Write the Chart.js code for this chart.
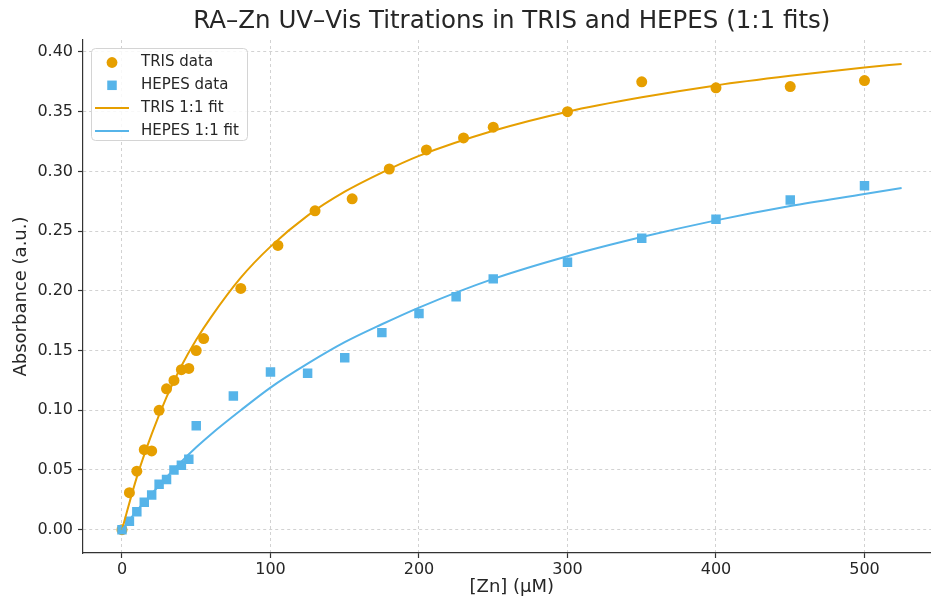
<!DOCTYPE html>
<html><head><meta charset="utf-8">
<script src="https://cdn.jsdelivr.net/npm/chart.js"></script>
<style>html,body{margin:0;padding:0;overflow:hidden;background:#fff;width:931px;height:600px}
#wrap{width:960px;height:600px}</style>
</head><body><div id="wrap"><canvas id="c" width="960" height="600"></canvas></div>
<script>
const titleText = 'RA–Zn UV–Vis Titrations in TRIS and HEPES (1:1 fits)';
const xTitle = '[Zn] (µM)';
const yTitle = 'Absorbance (a.u.)';
const xTicks = [0, 100, 200, 300, 400, 500];
const yTicks = [0, 0.05, 0.10, 0.15, 0.20, 0.25, 0.30, 0.35, 0.40];

const trisX = [0,5,10,15,20,25,30,35,40,45,50,55,80,105,130,155,180,205,230,250,300,350,400,450,500];
const trisY = [0,0.031,0.049,0.067,0.066,0.100,0.118,0.125,0.134,0.135,0.150,0.160,0.202,0.238,0.267,0.277,0.302,0.318,0.328,0.337,0.350,0.375,0.370,0.371,0.376];
const hepesX = [0,5,10,15,20,25,30,35,40,45,50,75,100,125,150,175,200,225,250,300,350,400,450,500];
const hepesY = [0,0.007,0.015,0.023,0.029,0.038,0.042,0.050,0.054,0.059,0.087,0.112,0.132,0.131,0.144,0.165,0.181,0.195,0.210,0.224,0.244,0.260,0.276,0.288];
const fitX = [0,10,20,30,40,50,60,80,100,125,150,175,200,250,300,350,400,450,500,525];
const trisFit = [0,0.044,0.080,0.111,0.137,0.159,0.178,0.211,0.237,0.263,0.283,0.299,0.313,0.334,0.350,0.362,0.372,0.380,0.387,0.390];
const hepesFit = [0,0.016,0.030,0.044,0.057,0.069,0.080,0.100,0.119,0.139,0.157,0.172,0.186,0.210,0.229,0.245,0.259,0.271,0.281,0.286];

const ORANGE = '#E69F00', BLUE = '#56B4E9';
const FONT = "'DejaVu Sans', sans-serif";
const pts = (xs, ys) => xs.map((x, i) => ({x, y: ys[i]}));

const legendPlugin = {
  id: 'boxLegend',
  afterDraw(chart) {
    const ctx = chart.ctx;
    ctx.save();
    ctx.beginPath();
    ctx.roundRect(91.5, 48.5, 156, 92, 4);
    ctx.fillStyle = 'rgba(255,255,255,0.85)';
    ctx.fill();
    ctx.strokeStyle = '#d4d4d4';
    ctx.lineWidth = 1;
    ctx.stroke();
    const ds = chart.data.datasets;
    const order = [0, 1, 2, 3];
    ctx.font = '15px ' + FONT;
    ctx.textBaseline = 'middle';
    ctx.textAlign = 'left';
    order.forEach((di, i) => {
      const d = ds[di];
      const y = 62.5 + i * 22.8;
      if (d.showLine) {
        ctx.beginPath();
        ctx.moveTo(95, y); ctx.lineTo(129, y);
        ctx.strokeStyle = d.borderColor; ctx.lineWidth = 2; ctx.stroke();
      } else if (d.pointStyle === 'rect') {
        ctx.fillStyle = d.backgroundColor;
        ctx.fillRect(112 - 4.75, y - 4.75, 9.5, 9.5);
      } else {
        ctx.beginPath(); ctx.arc(112, y, 5.4, 0, Math.PI * 2);
        ctx.fillStyle = d.backgroundColor; ctx.fill();
      }
      ctx.fillStyle = '#262626';
      ctx.fillText(d.label, 141, y);
    });
    ctx.restore();
  }
};

new Chart(document.getElementById('c'), {
  type: 'scatter',
  data: {
    datasets: [
      {label: 'TRIS data', data: pts(trisX, trisY), backgroundColor: ORANGE, borderColor: ORANGE, pointStyle: 'circle', pointRadius: 5.5, borderWidth: 0, order: 4},
      {label: 'HEPES data', data: pts(hepesX, hepesY), backgroundColor: BLUE, borderColor: BLUE, pointStyle: 'rect', pointRadius: 6.7, borderWidth: 0, order: 3},
      {label: 'TRIS 1:1 fit', data: pts(fitX, trisFit), showLine: true, borderColor: ORANGE, backgroundColor: ORANGE, borderWidth: 2, pointRadius: 0, cubicInterpolationMode: 'monotone', order: 2},
      {label: 'HEPES 1:1 fit', data: pts(fitX, hepesFit), showLine: true, borderColor: BLUE, backgroundColor: BLUE, borderWidth: 2, pointRadius: 0, cubicInterpolationMode: 'monotone', order: 1}
    ]
  },
  options: {
    responsive: false,
    animation: false,
    devicePixelRatio: 1,
    layout: {padding: {left: 0, right: 19.4, top: 0, bottom: 0}},
    plugins: {
      legend: {display: false},
      tooltip: {enabled: false},
      title: {display: true, text: titleText, fullSize: false, color: '#262626',
        font: {family: FONT, size: 24.5, weight: 'normal', lineHeight: 1.2}, padding: {top: 7, bottom: 3.6}}
    },
    scales: {
      x: {
        type: 'linear', min: -26.25, max: 551.25,
        afterBuildTicks: s => { s.ticks = xTicks.map(v => ({value: v})); },
        afterFit: s => { s.height = 47; },
        grid: {color: '#d2d2d2', lineWidth: 1, tickLength: 5, tickColor: '#333', tickWidth: 1.2},
        border: {display: true, color: '#333', width: 1.2, dash: [3, 3]},
        ticks: {color: '#262626', font: {family: FONT, size: 16}, padding: 2, maxRotation: 0},
        title: {display: true, text: xTitle, color: '#262626', font: {family: FONT, size: 18, lineHeight: 1.2}, padding: {top: 0, bottom: 2.2}}
      },
      y: {
        type: 'linear', min: -0.0195, max: 0.41,
        afterBuildTicks: s => { s.ticks = yTicks.map(v => ({value: v})); },
        afterFit: s => { s.width = 83; },
        grid: {color: '#d2d2d2', lineWidth: 1, tickLength: 5, tickColor: '#333', tickWidth: 1.2},
        border: {display: true, color: '#333', width: 1.2, dash: [3, 3]},
        ticks: {color: '#262626', font: {family: FONT, size: 16}, padding: 5, callback: v => v.toFixed(2)},
        title: {display: true, text: yTitle, color: '#262626', font: {family: FONT, size: 18, lineHeight: 1.2}, padding: {top: 10.2, bottom: 0}}
      }
    }
  },
  plugins: [legendPlugin]
});
</script></body></html>
